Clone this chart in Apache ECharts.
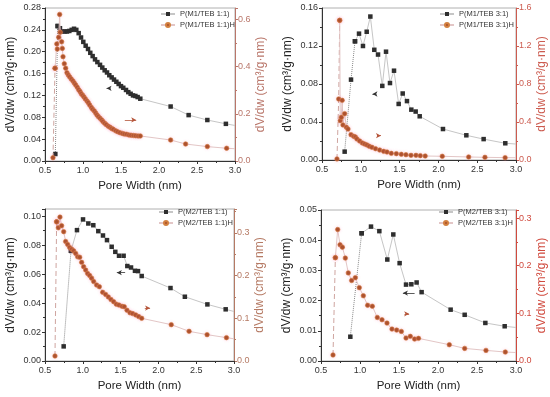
<!DOCTYPE html>
<html><head><meta charset="utf-8">
<script src="https://cdn.jsdelivr.net/npm/echarts@6/dist/echarts.min.js"></script>
<style>html,body{margin:0;padding:0;background:#fff}#c{width:550px;height:397px}</style>
</head><body><div id="c"></div>
<script>
// ---------- data ----------
const xTicks = [0.5, 1.0, 1.5, 2.0, 2.5, 3.0];

const p1Names = ['P(M1/TEB 1:1)', 'P(M1/TEB 1:1)H'];
const p1BlackX = [0.636,0.667,0.697,0.728,0.759,0.789,0.82,0.851,0.882,0.912,0.943,0.974,1.004,1.035,1.066,1.096,1.127,1.158,1.189,1.224,1.254,1.285,1.316,1.346,1.377,1.408,1.439,1.469,1.5,1.53,1.566,1.596,1.627,1.658,1.689,1.719,1.754,2.153,2.39,2.636,2.88,3.0];
const p1BlackY = [0.0128,0.247,0.243,0.237,0.237,0.237,0.238,0.240,0.242,0.240,0.234,0.226,0.218,0.211,0.205,0.198,0.192,0.186,0.181,0.176,0.171,0.166,0.162,0.157,0.153,0.149,0.145,0.141,0.137,0.134,0.130,0.126,0.123,0.120,0.119,0.117,0.114,0.0997,0.084,0.075,0.068,0.065];
const p1RedX = [0.605,0.632,0.655,0.662,0.68,0.693,0.70,0.719,0.728,0.737,0.754,0.772,0.789,0.807,0.825,0.846,0.868,0.886,0.904,0.925,0.943,0.961,0.978,0.996,1.013,1.031,1.053,1.070,1.088,1.110,1.127,1.149,1.167,1.184,1.202,1.224,1.246,1.263,1.285,1.307,1.333,1.355,1.377,1.399,1.430,1.456,1.487,1.518,1.544,1.575,1.605,1.632,1.663,1.693,1.725,1.754,2.153,2.35,2.636,2.89,3.0];
const p1RedY = [0.014,0.393,0.496,0.474,0.524,0.621,0.545,0.505,0.477,0.442,0.412,0.393,0.374,0.364,0.356,0.347,0.339,0.330,0.322,0.312,0.302,0.294,0.285,0.278,0.271,0.263,0.254,0.247,0.237,0.227,0.219,0.212,0.203,0.195,0.188,0.181,0.174,0.167,0.160,0.154,0.147,0.143,0.138,0.134,0.128,0.124,0.120,0.117,0.114,0.113,0.110,0.109,0.108,0.107,0.106,0.106,0.089,0.072,0.061,0.054,0.052];

const p2Names = ['P(M1/TEB 3:1)', 'P(M1/TEB 3:1)H'];
const p2BlackX = [0.792,0.874,0.925,0.977,1.028,1.076,1.123,1.174,1.222,1.277,1.325,1.376,1.428,1.488,1.540,1.595,1.651,1.707,1.759,2.059,2.36,2.583,2.862,3.0];
const p2BlackY = [0.0088,0.0846,0.125,0.133,0.120,0.135,0.151,0.116,0.111,0.078,0.114,0.081,0.094,0.059,0.070,0.062,0.053,0.051,0.046,0.0326,0.026,0.022,0.0176,0.0168];
const p2RedX = [0.693,0.715,0.728,0.735,0.749,0.76,0.77,0.792,0.814,0.835,0.874,0.908,0.93,0.951,0.985,1.02,1.05,1.08,1.11,1.144,1.19,1.243,1.295,1.338,1.393,1.458,1.522,1.582,1.647,1.711,1.767,1.83,2.05,2.39,2.6,2.86,3.0];
const p2RedY = [0.011,0.642,1.47,0.414,0.449,0.628,0.369,0.488,0.344,0.326,0.267,0.249,0.242,0.221,0.200,0.179,0.168,0.158,0.144,0.133,0.119,0.105,0.091,0.084,0.070,0.067,0.060,0.056,0.049,0.049,0.046,0.042,0.039,0.032,0.028,0.025,0.024];

const p3Names = ['P(M2/TEB 1:1)', 'P(M2/TEB 1:1)H'];
const p3BlackX = [0.747,0.844,0.923,1.003,1.073,1.139,1.205,1.267,1.32,1.382,1.43,1.479,1.54,1.589,1.638,1.69,1.73,1.779,2.16,2.35,2.648,2.89,3.0];
const p3BlackY = [0.0101,0.0761,0.0904,0.0978,0.095,0.0938,0.0897,0.0867,0.0835,0.0789,0.0754,0.0727,0.0727,0.0656,0.0646,0.0623,0.0621,0.0587,0.0504,0.0444,0.0391,0.0357,0.0342];
const p3RedX = [0.632,0.654,0.676,0.698,0.72,0.747,0.773,0.80,0.826,0.853,0.879,0.906,0.932,0.959,0.985,1.011,1.038,1.064,1.091,1.117,1.144,1.183,1.219,1.263,1.302,1.338,1.373,1.408,1.444,1.479,1.519,1.549,1.585,1.624,1.66,1.70,1.739,1.779,2.17,2.406,2.644,2.9,3.0];
const p3RedY = [0.0117,0.326,0.312,0.337,0.317,0.303,0.280,0.273,0.266,0.262,0.258,0.252,0.244,0.243,0.231,0.221,0.213,0.205,0.200,0.194,0.186,0.178,0.174,0.161,0.156,0.150,0.144,0.139,0.133,0.131,0.128,0.127,0.119,0.113,0.111,0.108,0.104,0.100,0.0851,0.0695,0.0617,0.0547,0.052];

const p4Names = ['P(M2/TEB 3:1)', 'P(M2/TEB 3:1)H'];
const p4BlackX = [0.876,1.021,1.141,1.248,1.35,1.427,1.508,1.59,1.658,1.726,1.79,2.162,2.342,2.607,2.855,3.0];
const p4BlackY = [0.00804,0.0423,0.0445,0.0430,0.0336,0.0419,0.0324,0.0253,0.0254,0.0260,0.0228,0.0170,0.0153,0.0126,0.0115,0.0111];
const p4RedX = [0.654,0.684,0.714,0.744,0.774,0.812,0.85,0.893,0.94,0.991,1.043,1.098,1.158,1.222,1.282,1.346,1.41,1.47,1.53,1.59,1.645,1.70,1.75,2.145,2.342,2.615,2.863,3.0];
const p4RedY = [0.0126,0.217,0.276,0.244,0.239,0.216,0.185,0.169,0.175,0.154,0.137,0.117,0.115,0.0914,0.0866,0.0796,0.067,0.0649,0.0621,0.0482,0.0517,0.0461,0.0475,0.0342,0.0265,0.0223,0.0188,0.0178];

// axis-indicator arrows [fromX, toX, y]
const p1Arrows = [[1.36,1.31,0.133],[1.55,1.70,0.174]];
const p2Arrows = [[1.20,1.15,0.0695],[1.21,1.26,0.256]];
const p3Arrows = [[1.56,1.45,0.061],[1.82,1.89,0.124]];
const p4Arrows = [[1.70,1.55,0.0225],[1.57,1.63,0.099]];

// ---------- chart ----------
const FONT = 'Liberation Sans, Arial, sans-serif';
const panels = [
  {names:p1Names, bx:p1BlackX, by:p1BlackY, rx:p1RedX, ry:p1RedY, arrows:p1Arrows,
   grid:{left:45, top:8, width:190, height:153}, lmax:0.28, lint:0.04, rmax:0.648, rint:0.2,
   rcol:'#b9766a', leadB:1, leadR:1, legend:{left:160, top:10}},
  {names:p2Names, bx:p2BlackX, by:p2BlackY, rx:p2RedX, ry:p2RedY, arrows:p2Arrows,
   grid:{left:322, top:8, width:194, height:152}, lmax:0.16, lint:0.04, rmax:1.6, rint:0.4,
   rcol:'#cc5c50', leadB:2, leadR:2, legend:{left:439, top:10}},
  {names:p3Names, bx:p3BlackX, by:p3BlackY, rx:p3RedX, ry:p3RedY, arrows:p3Arrows,
   grid:{left:45, top:209, width:189, height:152}, lmax:0.105, lint:0.02, rmax:0.356, rint:0.1,
   rcol:'#b57a64', leadB:1, leadR:1, legend:{left:158, top:208}},
  {names:p4Names, bx:p4BlackX, by:p4BlackY, rx:p4RedX, ry:p4RedY, arrows:p4Arrows,
   grid:{left:321, top:210, width:195, height:151}, lmax:0.05, lint:0.01, rmax:0.317, rint:0.1,
   rcol:'#d04a3e', leadB:1, leadR:1, legend:{left:438, top:208}}
];

function mk(xs, ys) {
  return xs.map((x, i) => x >= 3 ? {value:[x, ys[i]], symbol:'none'} : [x, ys[i]]);
}
function arrowLine(a, color) {
  return {
    silent: true, symbol: ['none', 'arrow'], symbolSize: [4, 5], animation: false,
    label: {show: false}, lineStyle: {color: color, width: 0.8, type: 'solid'},
    data: [[{coord: [a[0], a[2]]}, {coord: [a[1], a[2]]}]]
  };
}

const grids = [], xAxes = [], yAxes = [], series = [], legends = [];
panels.forEach((p, i) => {
  grids.push(Object.assign({show: true, borderColor: '#b0b0b0', borderWidth: 1, backgroundColor: 'transparent'}, p.grid));
  xAxes.push({
    gridIndex: i, type: 'value', min: xTicks[0], max: xTicks[xTicks.length - 1], interval: 0.5,
    axisLine: {show: true, onZero: false, lineStyle: {color: '#333', width: 1}},
    axisTick: {show: true, length: 3, lineStyle: {color: '#333'}},
    minorTick: {show: true, splitNumber: 2, length: 2, lineStyle: {color: '#333'}},
    splitLine: {show: false},
    axisLabel: {fontSize: 9, color: '#333', margin: 5, fontFamily: FONT, formatter: v => v.toFixed(1)},
    name: 'Pore Width (nm)', nameLocation: 'middle', nameGap: 19,
    nameTextStyle: {fontSize: 11.5, color: '#222', fontFamily: FONT}
  });
  yAxes.push({
    gridIndex: i, type: 'value', position: 'left', min: 0, max: p.lmax, interval: p.lint,
    axisLine: {show: true, onZero: false, lineStyle: {color: '#333', width: 1}},
    axisTick: {show: true, length: 3, lineStyle: {color: '#333'}},
    minorTick: {show: true, splitNumber: 2, length: 2, lineStyle: {color: '#333'}},
    splitLine: {show: false},
    axisLabel: {fontSize: 9, color: '#333', margin: 4, fontFamily: FONT, showMaxLabel: (Math.abs(p.lmax / p.lint - Math.round(p.lmax / p.lint)) < 1e-6),
      formatter: v => v.toFixed(2)},
    name: 'dV/dw (cm³/g·nm)', nameLocation: 'middle', nameGap: 28, nameRotate: 90,
    nameTextStyle: {fontSize: 12, color: '#222', fontFamily: FONT}
  });
  yAxes.push({
    gridIndex: i, type: 'value', position: 'right', min: 0, max: p.rmax, interval: p.rint,
    axisLine: {show: true, onZero: false, lineStyle: {color: p.rcol, width: 1}},
    axisTick: {show: true, length: 3, lineStyle: {color: p.rcol}},
    minorTick: {show: true, splitNumber: 2, length: 2, lineStyle: {color: p.rcol}},
    splitLine: {show: false},
    axisLabel: {fontSize: 9, color: p.rcol, margin: 3, fontFamily: FONT, showMaxLabel: (Math.abs(p.rmax / p.rint - Math.round(p.rmax / p.rint)) < 1e-6),
      formatter: v => v.toFixed(1)},
    name: 'dV/dw (cm³/g·nm)', nameLocation: 'middle', nameGap: 17, nameRotate: 90,
    nameTextStyle: {fontSize: 12, color: p.rcol, fontFamily: FONT}
  });

  const bData = mk(p.bx, p.by), rData = mk(p.rx, p.ry);
  const blackItem = {color: '#2e2e2e'};
  const redItem = {color: '#a94e28', borderColor: '#d2803f', borderWidth: 0.6,
                   shadowBlur: 3, shadowColor: 'rgba(255,130,180,0.35)'};
  series.push({
    type: 'line', name: p.names[0] + ' ', xAxisIndex: i, yAxisIndex: 2 * i,
    data: bData.slice(0, p.leadB + 1), symbol: 'rect', symbolSize: 4.5,
    itemStyle: blackItem, lineStyle: {color: '#8a8a8a', width: 1, type: 'dotted'},
    animation: false, z: 3
  });
  series.push({
    type: 'line', name: p.names[0], xAxisIndex: i, yAxisIndex: 2 * i,
    data: bData.slice(p.leadB), symbol: 'rect', symbolSize: 4.5,
    itemStyle: blackItem, lineStyle: {color: '#c6c6c6', width: 1},
    markLine: arrowLine(p.arrows[0], '#333'),
    animation: false, z: 3
  });
  series.push({
    type: 'line', name: p.names[1] + ' ', xAxisIndex: i, yAxisIndex: 2 * i + 1,
    data: rData.slice(0, p.leadR + 1), symbol: 'circle', symbolSize: 4.5,
    itemStyle: redItem, lineStyle: {color: '#cfa5a0', width: 1, type: [5, 3]},
    animation: false, z: 4
  });
  series.push({
    type: 'line', name: p.names[1], xAxisIndex: i, yAxisIndex: 2 * i + 1,
    data: rData.slice(p.leadR), symbol: 'circle', symbolSize: 4.5,
    itemStyle: redItem, lineStyle: {color: '#e3c6c6', width: 1},
    markLine: arrowLine(p.arrows[1], '#b5553a'),
    animation: false, z: 4
  });
  legends.push({
    data: p.names.slice(), orient: 'vertical', left: p.legend.left, top: p.legend.top,
    itemWidth: 14, itemHeight: 5, itemGap: 3, padding: 0, selectedMode: false,
    textStyle: {fontSize: 7.5, color: '#333', fontFamily: FONT}
  });
});

const chart = echarts.init(document.getElementById('c'), null, {renderer: 'canvas'});
chart.setOption({
  backgroundColor: '#fff', animation: false,
  textStyle: {fontFamily: FONT},
  grid: grids, xAxis: xAxes, yAxis: yAxes, series: series, legend: legends
});
</script></body></html>
